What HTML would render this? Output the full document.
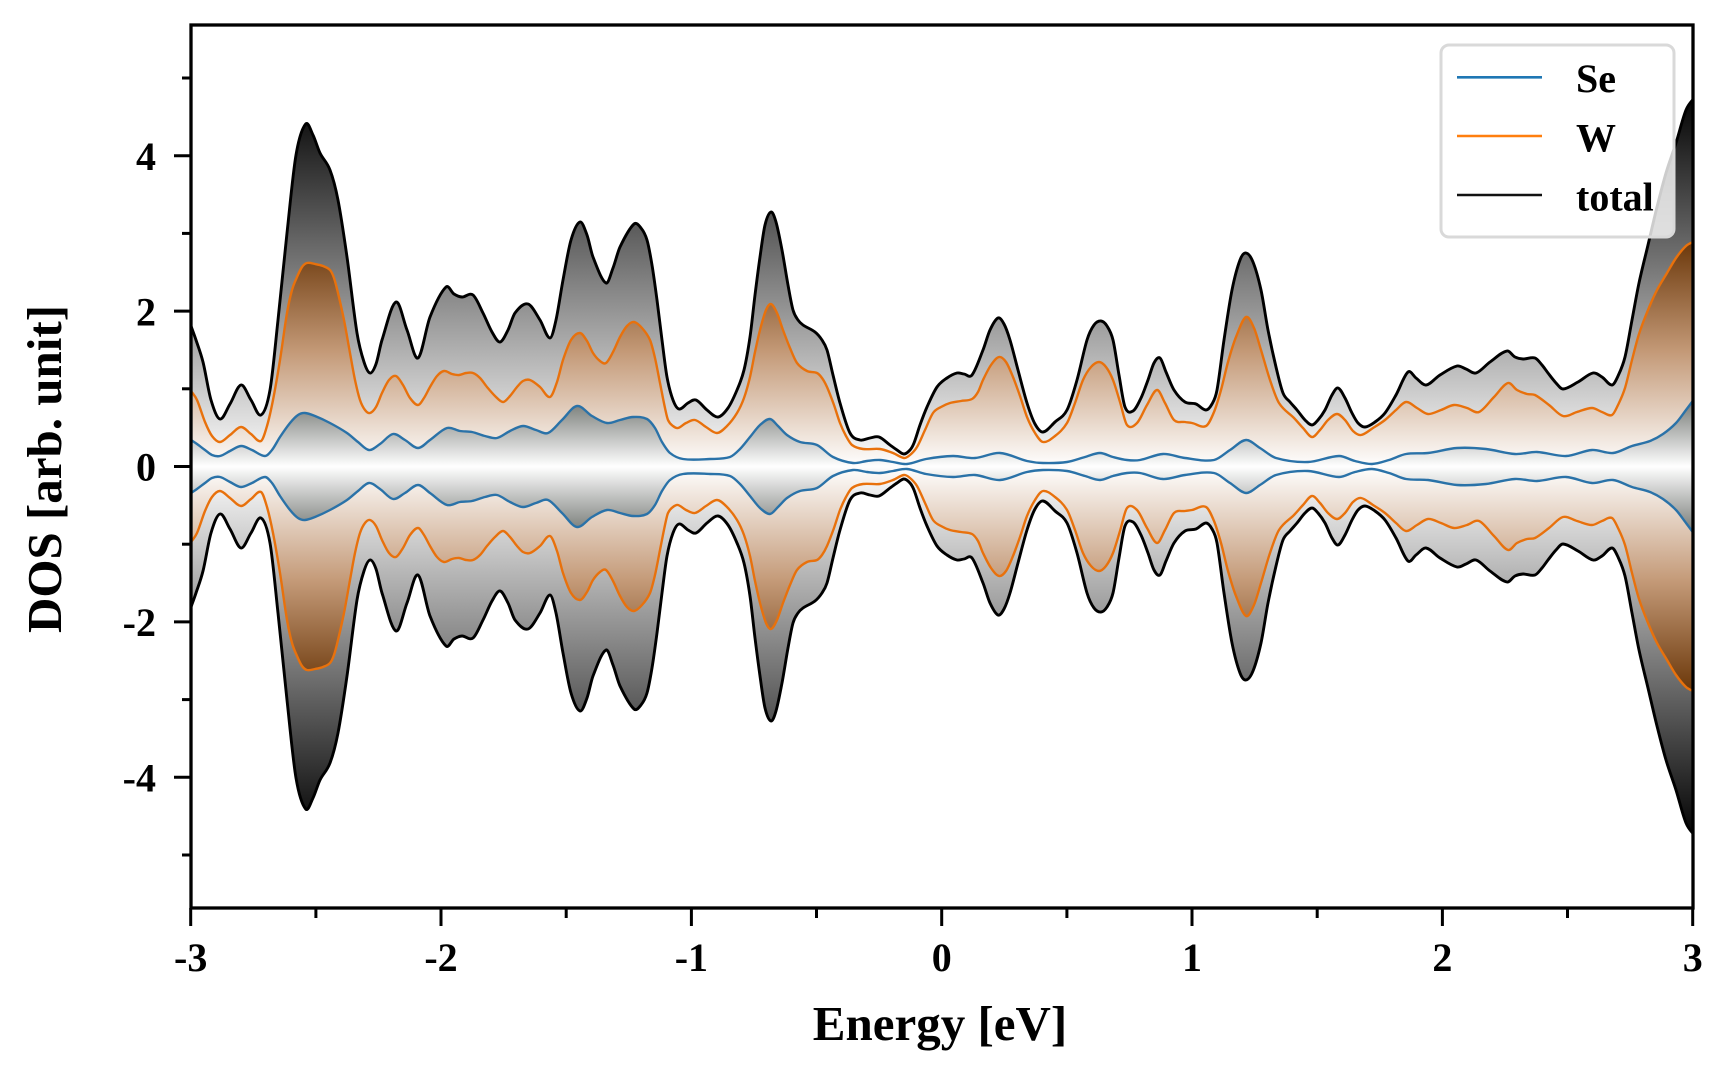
<!DOCTYPE html>
<html><head><meta charset="utf-8">
<style>
html,body{margin:0;padding:0;background:#fff;width:1728px;height:1080px;overflow:hidden}
svg{display:block}
text{font-family:"Liberation Serif","Times New Roman",serif;font-weight:bold;fill:#000}
</style></head><body>
<svg id="s" width="1728" height="1080" viewBox="0 0 1728 1080" xmlns="http://www.w3.org/2000/svg">
<defs>
<clipPath id="clip"><rect x="191" y="25" width="1502" height="883"/></clipPath>
<linearGradient id="gT" gradientUnits="userSpaceOnUse" x1="0" y1="466.5" x2="0" y2="93" spreadMethod="reflect">
<stop offset="0" stop-color="#ffffff"/><stop offset="1" stop-color="#000000"/></linearGradient>
<linearGradient id="gW" gradientUnits="userSpaceOnUse" x1="0" y1="466.5" x2="0" y2="238" spreadMethod="reflect">
<stop offset="0" stop-color="#ffffff"/><stop offset="0.5" stop-color="#c49a78"/><stop offset="1" stop-color="#683406"/></linearGradient>
<linearGradient id="gS" gradientUnits="userSpaceOnUse" x1="0" y1="466.5" x2="0" y2="396" spreadMethod="reflect">
<stop offset="0" stop-color="#ffffff"/><stop offset="1" stop-color="#6c706c"/></linearGradient>
</defs>
<g clip-path="url(#clip)" id="plot"></g>

<rect x="191" y="25" width="1502" height="883" fill="none" stroke="#000" stroke-width="3.3"/>

<g stroke="#000" stroke-width="3">
<line x1="182" y1="78" x2="191" y2="78"/>
<line x1="174" y1="155.7" x2="191" y2="155.7"/>
<line x1="182" y1="233.4" x2="191" y2="233.4"/>
<line x1="174" y1="311.1" x2="191" y2="311.1"/>
<line x1="182" y1="388.8" x2="191" y2="388.8"/>
<line x1="174" y1="466.5" x2="191" y2="466.5"/>
<line x1="182" y1="544.2" x2="191" y2="544.2"/>
<line x1="174" y1="621.9" x2="191" y2="621.9"/>
<line x1="182" y1="699.6" x2="191" y2="699.6"/>
<line x1="174" y1="777.3" x2="191" y2="777.3"/>
<line x1="182" y1="855" x2="191" y2="855"/>
<line x1="190.7" y1="908" x2="190.7" y2="926"/>
<line x1="315.9" y1="908" x2="315.9" y2="918"/>
<line x1="441" y1="908" x2="441" y2="926"/>
<line x1="566.2" y1="908" x2="566.2" y2="918"/>
<line x1="691.4" y1="908" x2="691.4" y2="926"/>
<line x1="816.5" y1="908" x2="816.5" y2="918"/>
<line x1="941.7" y1="908" x2="941.7" y2="926"/>
<line x1="1066.9" y1="908" x2="1066.9" y2="918"/>
<line x1="1192" y1="908" x2="1192" y2="926"/>
<line x1="1317.2" y1="908" x2="1317.2" y2="918"/>
<line x1="1442.4" y1="908" x2="1442.4" y2="926"/>
<line x1="1567.5" y1="908" x2="1567.5" y2="918"/>
<line x1="1692.7" y1="908" x2="1692.7" y2="926"/>
</g>

<g font-size="40" text-anchor="end">
<text x="156" y="170">4</text>
<text x="156" y="325.5">2</text>
<text x="156" y="480.5">0</text>
<text x="156" y="636">-2</text>
<text x="156" y="791.5">-4</text>
</g>
<g font-size="40" text-anchor="middle">
<text x="190.7" y="971">-3</text>
<text x="441" y="971">-2</text>
<text x="691.4" y="971">-1</text>
<text x="941.7" y="971">0</text>
<text x="1192" y="971">1</text>
<text x="1442.4" y="971">2</text>
<text x="1692.7" y="971">3</text>
</g>

<text x="940" y="1040" font-size="49" text-anchor="middle">Energy [eV]</text>
<text transform="translate(61,469) rotate(-90)" x="0" y="0" font-size="49" text-anchor="middle">DOS [arb. unit]</text>

<rect x="1441" y="45" width="233" height="192" rx="8" ry="8" fill="#ffffff" fill-opacity="0.8" stroke="#d9d9d9" stroke-width="3"/>
<line x1="1457" y1="77.3" x2="1542" y2="77.3" stroke="#1f77b4" stroke-width="2.6"/>
<line x1="1457" y1="136" x2="1542" y2="136" stroke="#ff7f0e" stroke-width="2.6"/>
<line x1="1457" y1="195" x2="1542" y2="195" stroke="#111" stroke-width="2.6"/>
<g font-size="40">
<text x="1576" y="92">Se</text>
<text x="1576" y="151.5">W</text>
<text x="1576" y="210.5">total</text>
</g>
</svg>
<script>
const T=[[191,326],[196,340],[203,362],[211,400],[220,419],[230,404],[241,385],[251,400],[261,415],[270,390],[278,320],[287,233],[296,155],[305.7,124],[313,135],[320,153],[330,170],[338,200],[347,257],[357,333],[364,362],[370,373],[376,364],[382,340],[396,302],[407,330],[418,358],[430,317],[446,287],[454,294],[462,297],[473,295],[483,313],[492,332],[500,342],[508,330],[515,313],[528,304],[540,320],[550,338],[556,320],[563,280],[571,240],[580,222],[587,235],[593,257],[606,283],[613,268],[620,247],[634,224],[641,228],[647,240],[652,265],[657,300],[662,340],[667,377],[673,400],[679,409],[688,403],[696,400],[707,410],[718,417],[728,408],[737,390],[744,370],[750,337],[755,295],[760,257],[765,225],[771,212],[776,222],[782,250],[788,285],[793,310],[798,320],[803,325],[815,332],[822,340],[827,350],[833,375],[840,403],[850,433],[860,440],[870,438],[879,437],[890,445],[897,450],[904,454],[910,450],[914,443],[920,425],[927,407],[937,387],[947,378],[957,373],[964,374],[972,375],[983,350],[990,330],[998,318],[1004,324],[1010,340],[1018,370],[1027,403],[1035,424],[1043,432],[1055,422],[1067,410],[1077,380],[1087,340],[1094,325],[1101,321],[1107,326],[1113,340],[1119,375],[1125,407],[1133,411],[1141,398],[1148,380],[1154,363],[1160,358],[1166,372],[1174,390],[1185,402],[1196,404],[1206,410],[1212,404],[1217,390],[1224,340],[1232,290],[1240,260],[1246,253],[1253,262],[1261,290],[1268,330],[1276,367],[1283,393],[1290,402],[1297,410],[1305,420],[1312,425],[1318,420],[1325,410],[1332,395],[1338,388],[1345,398],[1352,413],[1358,423],[1365,427],[1375,422],[1385,413],[1396,395],[1408,372],[1416,378],[1426,385],[1440,375],[1457,366],[1466,369],[1476,373],[1490,362],[1507,351],[1515,357],[1523,359],[1535,358],[1542,365],[1548,373],[1556,383],[1563,389],[1578,382],[1593,373],[1602,377],[1612,385],[1618,376],[1625,357],[1632,320],[1639,283],[1648,245],[1657,207],[1666,173],[1676,143],[1686,110],[1695,97]];
const W=[[191,391],[197,400],[205,422],[212,436],[220,442],[230,435],[241,427],[251,434],[261,441],[267,426],[273,400],[280,360],[287,313],[292,290],[297,277],[302,267],[307,263],[315,264],[323,266],[330,270],[334,278],[338,293],[344,320],[350,353],[355,380],[360,400],[365,410],[370,413],[376,407],[382,393],[389,380],[396,376],[403,385],[410,398],[418,405],[424,398],[430,387],[437,376],[444,371],[452,374],[459,375],[466,373],[473,373],[480,378],[487,387],[495,396],[503,402],[510,396],[517,387],[523,381],[530,380],[540,387],[550,397],[557,382],[563,360],[571,340],[580,333],[587,341],[593,353],[600,361],[606,363],[613,352],[620,337],[627,326],[634,322],[642,328],[650,340],[655,358],[660,383],[665,408],[668,420],[673,426],[678,428],[686,423],[695,420],[706,427],[717,433],[727,426],[737,413],[744,398],[750,377],[755,352],[760,330],[766,310],[771,304],[777,313],[783,330],[790,348],[797,363],[807,371],[817,373],[822,378],[827,387],[834,405],[840,423],[846,436],[852,445],[863,449],[880,449],[893,453],[904,458],[910,455],[917,447],[925,430],[933,413],[941,407],[950,403],[961,401],[972,399],[978,392],[983,380],[991,365],[999,357],[1006,362],[1013,377],[1020,396],[1027,417],[1035,433],[1043,442],[1055,436],[1067,423],[1075,403],[1083,380],[1091,367],[1099,362],[1106,367],[1113,380],[1120,402],[1127,425],[1137,423],[1147,405],[1157,390],[1165,403],[1174,420],[1185,422],[1192,423],[1206,426],[1214,412],[1221,390],[1228,362],[1236,337],[1246,317],[1254,328],[1261,350],[1270,380],[1279,403],[1294,418],[1303,428],[1312,437],[1320,430],[1328,420],[1337,414],[1345,420],[1353,431],[1361,435],[1373,428],[1385,420],[1396,410],[1406,402],[1417,408],[1428,414],[1441,410],[1454,405],[1467,408],[1479,412],[1494,397],[1508,383],[1517,390],[1527,394],[1535,395],[1549,405],[1563,416],[1577,412],[1592,408],[1602,412],[1612,415],[1618,405],[1625,388],[1632,360],[1639,334],[1648,310],[1657,290],[1667,273],[1676,258],[1686,246],[1695,241]];
const S=[[191,440],[197,444],[205,450],[212,455],[220,456],[230,451],[241,446],[252,450],[265,456],[272,450],[280,437],[290,423],[298,415],[305,413],[315,416],[330,423],[347,433],[358,442],[369,450],[380,444],[393,434],[405,440],[418,448],[430,440],[447,428],[460,431],[472,432],[485,436],[497,438],[510,431],[523,426],[536,430],[548,433],[562,420],[577,406],[592,416],[607,423],[620,420],[633,417],[647,419],[655,428],[662,442],[670,453],[683,459],[710,459],[730,457],[740,449],[750,437],[760,425],[770,419],[778,426],[787,435],[800,442],[817,445],[833,457],[853,463],[867,461],[880,460],[893,462],[907,464],[926,459],[953,456],[975,458],[1000,453],[1027,461],[1043,463],[1067,462],[1085,457],[1100,453],[1113,457],[1127,460],[1140,460],[1163,454],[1185,458],[1214,460],[1230,450],[1246,440],[1260,448],[1276,458],[1308,462],[1339,456],[1355,461],[1372,464],[1389,460],[1406,454],[1428,453],[1457,448],[1486,449],[1515,454],[1537,452],[1566,456],[1592,450],[1613,453],[1632,446],[1650,441],[1663,434],[1676,423],[1686,410],[1695,398]];
const M=933;
function f(v){return (+v).toFixed(2);}
function slopes(p){const n=p.length,m=[];for(let i=0;i<n;i++){const a=p[Math.max(0,i-1)],b=p[Math.min(n-1,i+1)];m.push((b[1]-a[1])/(b[0]-a[0]));}return m;}
function seg(p){const m=slopes(p);let d='';for(let i=0;i<p.length-1;i++){const b=p[i],c=p[i+1],dx=(c[0]-b[0])/3;
d+='C'+f(b[0]+dx)+','+f(b[1]+m[i]*dx)+' '+f(c[0]-dx)+','+f(c[1]-m[i+1]*dx)+' '+f(c[0])+','+f(c[1]);}return d;}
function segRev(p){/* p is in decreasing x order */const q=p.slice().reverse();const m=slopes(q);let d='';for(let i=q.length-1;i>0;i--){const b=q[i],c=q[i-1],dx=(b[0]-c[0])/3;
d+='C'+f(b[0]-dx)+','+f(b[1]-m[i]*dx)+' '+f(c[0]+dx)+','+f(c[1]+m[i-1]*dx)+' '+f(c[0])+','+f(c[1]);}return d;}
function line(p){return 'M'+f(p[0][0])+','+f(p[0][1])+seg(p);}
function mir(p){return p.map(q=>[q[0],M-q[1]]);}
function area(p){const lo=mir(p).reverse();return line(p)+'L'+f(lo[0][0])+','+f(lo[0][1])+segRev(lo)+'Z';}
const g=document.getElementById('plot');const NS='http://www.w3.org/2000/svg';
function add(d,at){const el=document.createElementNS(NS,'path');el.setAttribute('d',d);for(const k in at)el.setAttribute(k,at[k]);g.appendChild(el);}
add(area(T),{fill:'url(#gT)'});
add(area(W),{fill:'url(#gW)'});
add(area(S),{fill:'url(#gS)'});
[[S,'#2a72a8',2.4],[W,'#e8710c',2.4],[T,'#000000',2.9]].forEach(function(a){
add(line(a[0]),{fill:'none',stroke:a[1],'stroke-width':a[2],'stroke-linejoin':'round'});
add(line(mir(a[0])),{fill:'none',stroke:a[1],'stroke-width':a[2],'stroke-linejoin':'round'});
});
</script>
</body></html>
